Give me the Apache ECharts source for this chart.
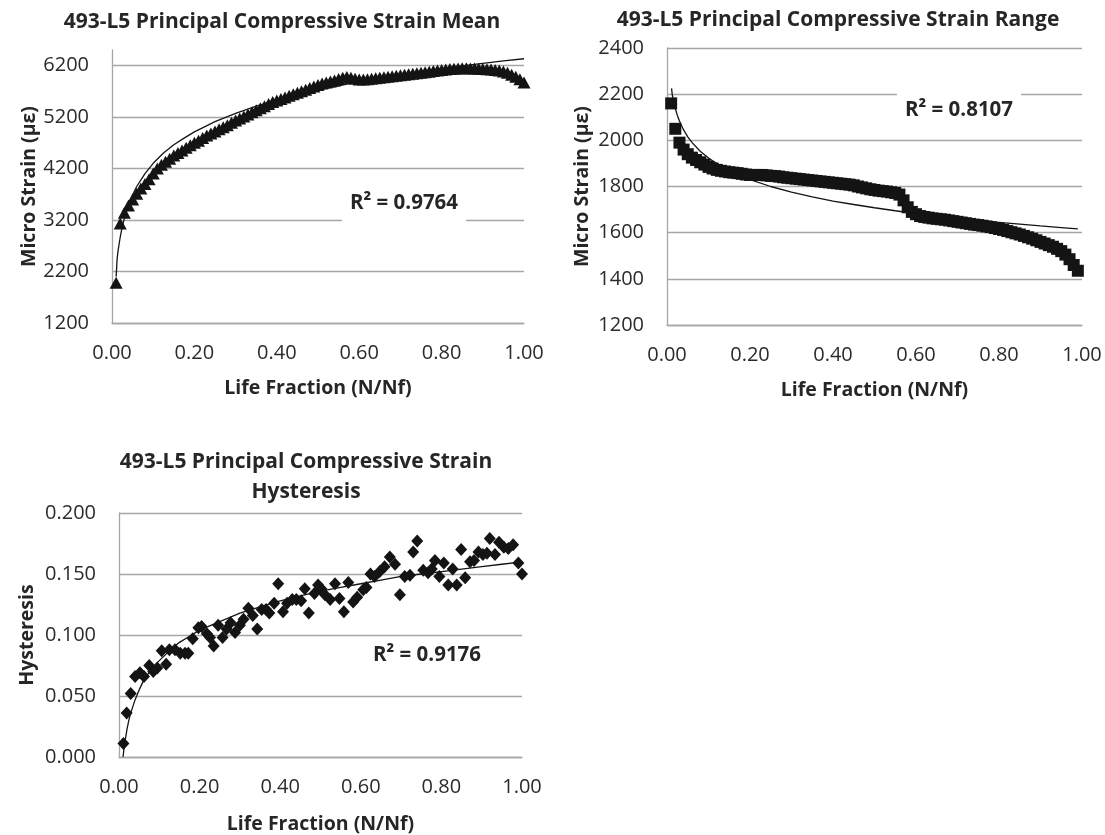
<!DOCTYPE html>
<html>
<head>
<meta charset="utf-8">
<title>493-L5 Principal Compressive Strain</title>
<script src="https://cdn.jsdelivr.net/npm/echarts@6.0.0/dist/echarts.min.js"></script>
<style>
    html, body { margin: 0; padding: 0; background: #fff; }
    #main { width: 1105px; height: 835px; }
</style>
</head>
<body>
<div id="main"></div>
<script>
// life fraction N/Nf of each recorded block (mean + range charts)
var lifeFraction = [
    0.01, 0.02, 0.03, 0.04, 0.05, 0.06, 0.07, 0.08, 0.09, 0.10,
    0.11, 0.12, 0.13, 0.14, 0.15, 0.16, 0.17, 0.18, 0.19, 0.20,
    0.21, 0.22, 0.23, 0.24, 0.25, 0.26, 0.27, 0.28, 0.29, 0.30,
    0.31, 0.32, 0.33, 0.34, 0.35, 0.36, 0.37, 0.38, 0.39, 0.40,
    0.41, 0.42, 0.43, 0.44, 0.45, 0.46, 0.47, 0.48, 0.49, 0.50,
    0.51, 0.52, 0.53, 0.54, 0.55, 0.56, 0.57, 0.58, 0.59, 0.60,
    0.61, 0.62, 0.63, 0.64, 0.65, 0.66, 0.67, 0.68, 0.69, 0.70,
    0.71, 0.72, 0.73, 0.74, 0.75, 0.76, 0.77, 0.78, 0.79, 0.80,
    0.81, 0.82, 0.83, 0.84, 0.85, 0.86, 0.87, 0.88, 0.89, 0.90,
    0.91, 0.92, 0.93, 0.94, 0.95, 0.96, 0.97, 0.98, 0.99, 1.00
];

// 一 : mean micro strain
var strainMean = [
    1980, 3130, 3340, 3480, 3600, 3710, 3810, 3900, 3990, 4100,
    4200, 4270, 4330, 4390, 4450, 4500, 4550, 4600, 4650, 4700,
    4740, 4790, 4840, 4880, 4920, 4960, 5000, 5040, 5090, 5130,
    5170, 5210, 5250, 5290, 5330, 5370, 5410, 5450, 5490, 5520,
    5550, 5580, 5610, 5640, 5670, 5700, 5730, 5760, 5790, 5820,
    5850, 5870, 5890, 5910, 5935, 5960, 5975, 5960, 5940, 5925,
    5925, 5930, 5940, 5950, 5960, 5970, 5980, 5990, 6000, 6010,
    6020, 6030, 6040, 6050, 6060, 6070, 6080, 6090, 6100, 6110,
    6120, 6130, 6135, 6140, 6145, 6145, 6140, 6140, 6135, 6130,
    6125, 6120, 6110, 6100, 6085, 6060, 6020, 5980, 5930, 5870
];
var meanTrendX = [0.010, 0.0125, 0.015, 0.02, 0.025, 0.03, 0.04, 0.05, 0.06, 0.08, 0.10, 0.125, 0.15, 0.175, 0.20,
    0.25, 0.30, 0.35, 0.40, 0.45, 0.50, 0.55, 0.60, 0.65, 0.70, 0.75, 0.80, 0.85, 0.90, 0.95, 1.00];
var meanTrendY = [2100, 2450, 2620, 2870, 3070, 3230, 3490, 3690, 3850, 4100, 4300, 4500, 4660, 4790, 4910,
    5110, 5270, 5410, 5525, 5630, 5720, 5805, 5885, 5955, 6020, 6080, 6140, 6190, 6240, 6290, 6330];

// 二 : micro strain range (stops at 0.99)
var strainRange = [
    2160, 2050, 1990, 1960, 1940, 1925, 1915, 1905, 1895, 1885,
    1878, 1872, 1868, 1865, 1862, 1860, 1858, 1855, 1852, 1850,
    1850, 1850, 1850, 1848, 1846, 1845, 1843, 1840, 1838, 1836,
    1834, 1832, 1830, 1828, 1826, 1824, 1822, 1820, 1818, 1816,
    1814, 1812, 1810, 1808, 1805, 1800, 1796, 1792, 1788, 1785,
    1782, 1780, 1778, 1775, 1772, 1765, 1740, 1710, 1690, 1680,
    1672, 1668, 1665, 1662, 1660, 1658, 1656, 1653, 1650, 1647,
    1644, 1641, 1638, 1635, 1633, 1630, 1627, 1624, 1620, 1616,
    1612, 1607, 1602, 1597, 1592, 1586, 1580, 1574, 1567, 1560,
    1553, 1546, 1539, 1530, 1520, 1505, 1485, 1460, 1435
];
var rangeTrendX = [0.011, 0.0125, 0.015, 0.02, 0.025, 0.03, 0.04, 0.05, 0.06, 0.08, 0.10, 0.125, 0.15, 0.175, 0.20,
    0.25, 0.30, 0.35, 0.40, 0.45, 0.50, 0.55, 0.60, 0.65, 0.70, 0.75, 0.80, 0.85, 0.90, 0.95, 0.99];
var rangeTrendY = [2225, 2200, 2176, 2138, 2108, 2084, 2045, 2015, 1991, 1953, 1923, 1893, 1869, 1848, 1830,
    1800, 1776, 1755, 1737, 1722, 1708, 1695, 1683, 1673, 1663, 1653, 1645, 1637, 1629, 1622, 1616];

// 三 : hysteresis (own x positions, scattered)
var hystFraction = [
    0.011, 0.019, 0.029, 0.040, 0.052, 0.062, 0.075, 0.085, 0.095, 0.106,
    0.117, 0.125, 0.139, 0.152, 0.164, 0.172, 0.183, 0.197, 0.205, 0.218,
    0.226, 0.235, 0.246, 0.257, 0.267, 0.277, 0.288, 0.300, 0.309, 0.321,
    0.332, 0.343, 0.354, 0.365, 0.373, 0.385, 0.395, 0.407, 0.417, 0.430,
    0.440, 0.452, 0.461, 0.471, 0.485, 0.494, 0.502, 0.511, 0.524, 0.536,
    0.547, 0.558, 0.569, 0.581, 0.591, 0.606, 0.614, 0.624, 0.634, 0.647,
    0.659, 0.672, 0.685, 0.697, 0.709, 0.722, 0.730, 0.740, 0.755, 0.767,
    0.776, 0.784, 0.795, 0.806, 0.817, 0.828, 0.838, 0.849, 0.859, 0.871,
    0.881, 0.892, 0.903, 0.913, 0.920, 0.933, 0.943, 0.955, 0.966, 0.978,
    0.991, 1.000
];
var hysteresis = [
    0.011, 0.036, 0.052, 0.066, 0.069, 0.066, 0.075, 0.070, 0.073, 0.087,
    0.076, 0.088, 0.088, 0.085, 0.085, 0.085, 0.097, 0.106, 0.107, 0.101,
    0.098, 0.091, 0.108, 0.098, 0.105, 0.110, 0.102, 0.108, 0.113, 0.122,
    0.116, 0.105, 0.121, 0.121, 0.118, 0.126, 0.142, 0.119, 0.126, 0.129,
    0.129, 0.128, 0.138, 0.118, 0.134, 0.141, 0.138, 0.133, 0.129, 0.142,
    0.130, 0.119, 0.143, 0.127, 0.131, 0.137, 0.139, 0.150, 0.148, 0.152,
    0.156, 0.164, 0.158, 0.133, 0.148, 0.149, 0.168, 0.177, 0.153, 0.151,
    0.154, 0.161, 0.148, 0.159, 0.141, 0.154, 0.141, 0.170, 0.147, 0.160,
    0.161, 0.168, 0.166, 0.167, 0.179, 0.166, 0.176, 0.172, 0.171, 0.174,
    0.159, 0.150
];
var hystTrendX = [0.010, 0.0125, 0.015, 0.02, 0.025, 0.03, 0.04, 0.05, 0.06, 0.08, 0.10, 0.125, 0.15, 0.175, 0.20,
    0.25, 0.30, 0.35, 0.40, 0.45, 0.50, 0.55, 0.60, 0.65, 0.70, 0.75, 0.80, 0.85, 0.90, 0.95, 1.00];
var hystTrendY = [0.000, 0.007, 0.013, 0.023, 0.031, 0.037, 0.047, 0.055, 0.062, 0.072, 0.079, 0.087, 0.094, 0.099, 0.104,
    0.111, 0.118, 0.123, 0.128, 0.132, 0.136, 0.139, 0.142, 0.145, 0.148, 0.150, 0.152, 0.154, 0.156, 0.158, 0.160];

// ticks
var fractionTicks = [0, 0.2, 0.4, 0.6, 0.8, 1.0];
var meanTicks = [1200, 2200, 3200, 4200, 5200, 6200];
var meanAxisTop = 6500;
var rangeTicks = [1200, 1400, 1600, 1800, 2000, 2200, 2400];
var hystTicks = [0, 0.05, 0.10, 0.15, 0.20];
var rSquared = ['0.9764', '0.8107', '0.9176'];

var FONT = '"Open Sans", "Noto Sans", sans-serif';
var GRIDC = '#a6a6a6';
var INK = '#141414';

function zip(xs, ys) {
    return ys.map(function (y, i) { return [xs[i], y]; });
}

function fractionAxis(gi, gap) {
    return {
        type: 'value', gridIndex: gi,
        min: fractionTicks[0], max: fractionTicks[fractionTicks.length - 1],
        interval: fractionTicks[1] - fractionTicks[0],
        name: 'Life Fraction (N/Nf)', nameLocation: 'middle', nameGap: gap,
        nameTextStyle: { fontFamily: FONT, fontSize: 19.5, fontWeight: 'bold', color: '#262626' },
        axisLine: { show: true, onZero: false, lineStyle: { color: GRIDC, width: 1.3 } },
        axisTick: { show: false },
        axisLabel: {
            margin: 20, color: '#2b2b2b', fontFamily: FONT, fontSize: 20,
            formatter: function (v) { return v.toFixed(2); }
        },
        splitLine: { show: false }
    };
}

function valueAxis(gi, ticks, top, name, gap, digits, showTop) {
    return {
        type: 'value', gridIndex: gi,
        min: ticks[0], max: top, interval: ticks[1] - ticks[0],
        name: name, nameLocation: 'middle', nameGap: gap,
        nameTextStyle: { fontFamily: FONT, fontSize: 19.5, fontWeight: 'bold', color: '#262626' },
        axisLine: { show: true, onZero: false, lineStyle: { color: GRIDC, width: 1.3 } },
        axisTick: { show: false },
        axisLabel: {
            margin: 23, color: '#2b2b2b', fontFamily: FONT, fontSize: 20,
            showMaxLabel: showTop,
            formatter: function (v) { return v.toFixed(digits); }
        },
        splitLine: { show: true, showMaxLine: showTop, lineStyle: { color: GRIDC, width: 1.4 } }
    };
}

function label(text, x, y, lh) {
    return {
        type: 'text', x: x, y: y, z: 100,
        style: {
            text: text, font: 'bold 21px ' + FONT, fill: '#262626',
            align: 'center', verticalAlign: 'middle',
            textAlign: 'center', textVerticalAlign: 'middle',
            lineHeight: lh || 26
        }
    };
}

function rLabel(i, x, y, boxed) {
    var t = label('R² = ' + rSquared[i], x, y);
    t.style.font = 'bold 20.5px ' + FONT;
    if (boxed) {
        t.style.backgroundColor = '#fff';
        t.style.padding = [7, 8, 8, 8];
    }
    return t;
}

function trend(gi, xs, ys) {
    return {
        type: 'line', xAxisIndex: gi, yAxisIndex: gi,
        data: zip(xs, ys),
        smooth: false, showSymbol: false, z: 5,
        lineStyle: { color: INK, width: 1.3 }
    };
}

var myChart = echarts.init(document.getElementById('main'));
var option = {
    backgroundColor: '#fff',
    animation: false,
    grid: [
        { left: 112, top: 50, width: 412, height: 273, outerBoundsMode: 'none' },
        { left: 667, top: 48, width: 415, height: 277, outerBoundsMode: 'none' },
        { left: 119, top: 513, width: 403, height: 244, outerBoundsMode: 'none' }
    ],
    xAxis: [fractionAxis(0, 55), fractionAxis(1, 55), fractionAxis(2, 57)],
    yAxis: [
        valueAxis(0, meanTicks, meanAxisTop, 'Micro Strain (µε)', 71, 0, false),
        valueAxis(1, rangeTicks, rangeTicks[rangeTicks.length - 1], 'Micro Strain (µε)', 75, 0, true),
        valueAxis(2, hystTicks, hystTicks[hystTicks.length - 1], 'Hysteresis', 82, 3, true)
    ],
    series: [
        {
            type: 'scatter', xAxisIndex: 0, yAxisIndex: 0,
            data: zip(lifeFraction, strainMean),
            symbol: 'triangle', symbolSize: [13, 12],
            itemStyle: { color: INK, opacity: 1 }
        },
        trend(0, meanTrendX, meanTrendY),
        {
            type: 'scatter', xAxisIndex: 1, yAxisIndex: 1,
            data: zip(lifeFraction, strainRange),
            symbol: 'rect', symbolSize: 12,
            itemStyle: { color: INK, opacity: 1 }
        },
        trend(1, rangeTrendX, rangeTrendY),
        {
            type: 'scatter', xAxisIndex: 2, yAxisIndex: 2,
            data: zip(hystFraction, hysteresis),
            symbol: 'diamond', symbolSize: [12, 13],
            itemStyle: { color: INK, opacity: 1 }
        },
        trend(2, hystTrendX, hystTrendY)
    ],
    graphic: [
        label('493-L5 Principal Compressive Strain Mean', 282, 22),
        label('493-L5 Principal Compressive Strain Range', 838, 20),
        label('493-L5 Principal Compressive Strain\nHysteresis', 306, 477, 30),
        rLabel(0, 404, 203, true),
        rLabel(1, 959, 110, true),
        rLabel(2, 427, 655, false)
    ]
};
myChart.setOption(option);
</script>
</body>
</html>
